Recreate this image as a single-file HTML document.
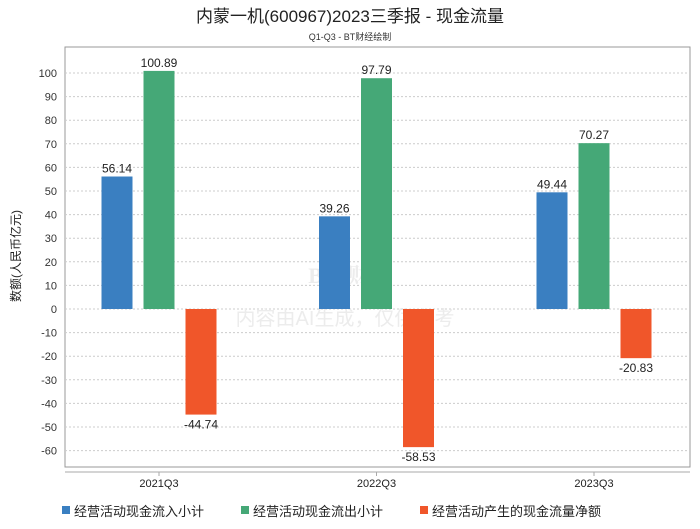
<!DOCTYPE html>
<html><head><meta charset="utf-8"><style>
body{margin:0;background:#fff;width:700px;height:524px;overflow:hidden;font-family:"Liberation Sans","Noto Sans CJK SC",sans-serif;}
</style></head><body>
<svg id="chart" width="700" height="524" xmlns="http://www.w3.org/2000/svg">
<text x="350" y="22" text-anchor="middle" font-size="17" fill="#222" font-family="Liberation Sans,Noto Sans CJK SC,sans-serif">内蒙一机(600967)2023三季报 - 现金流量</text>
<text x="350" y="40" text-anchor="middle" font-size="9" fill="#333" font-family="Liberation Sans,Noto Sans CJK SC,sans-serif">Q1-Q3 - BT财经绘制</text>
<rect x="65" y="47" width="625" height="420" fill="none" stroke="#999" stroke-width="1"/>
<g id="grid"></g>
<text x="350" y="283" text-anchor="middle" font-size="22" fill="#ececec" font-family="Liberation Serif,Noto Serif CJK SC,serif" font-weight="bold">B T 财经</text>
<text x="345" y="325" text-anchor="middle" font-size="20" fill="#ececec" font-family="Liberation Sans,Noto Sans CJK SC,sans-serif">内容由AI生成，仅供参考</text>
<g id="bars"></g>
<line x1="65" y1="472" x2="690" y2="472" stroke="#aaa"/>
<g id="xaxis"></g>
<text transform="translate(20,256) rotate(-90)" text-anchor="middle" font-size="12" fill="#222" font-family="Liberation Sans,Noto Sans CJK SC,sans-serif">数额(人民币亿元)</text>
<g id="legend" font-family="Liberation Sans,Noto Sans CJK SC,sans-serif" font-size="13" fill="#222">
<rect x="62" y="506" width="8" height="8" fill="#3a7fc1"/>
<text x="74" y="516">经营活动现金流入小计</text>
<rect x="241" y="506" width="8" height="8" fill="#45a877"/>
<text x="253" y="516">经营活动现金流出小计</text>
<rect x="420" y="506" width="8" height="8" fill="#f0562a"/>
<text x="432" y="516">经营活动产生的现金流量净额</text>
</g>
</svg>
<script>
const categories=["2021Q3","2022Q3","2023Q3"];
const inflow=[56.14,39.26,49.44];
const outflow=[100.89,97.79,70.27];
const net=[-44.74,-58.53,-20.83];
const yTicks=[100,90,80,70,60,50,40,30,20,10,0,-10,-20,-30,-40,-50,-60];
const NS="http://www.w3.org/2000/svg";
const y=v=>309-v*2.36;
const groupCenter=i=>159+i*217.5;
const grid=document.getElementById('grid'),bars=document.getElementById('bars'),xa=document.getElementById('xaxis');
function mk(tag,attrs,parent){const e=document.createElementNS(NS,tag);for(const k in attrs)e.setAttribute(k,attrs[k]);parent.appendChild(e);return e;}
yTicks.forEach(t=>{
 const l=mk('line',{x1:65,x2:690,y1:y(t),y2:y(t),stroke:'#ccc','stroke-dasharray':'2,2'},grid);
 
 
 const tx=mk('text',{x:57,y:y(t)+4,'text-anchor':'end','font-size':11,fill:'#333'},grid);
 tx.textContent=t;
 
 
});
const series=[[inflow,'#3a7fc1',-42,'inflow'],[outflow,'#45a877',0,'outflow'],[net,'#f0562a',42,'net']];
categories.forEach((c,i)=>{
 const cx=groupCenter(i);
 series.forEach(([arr,col,off,nm])=>{
  const v=arr[i],x=cx+off-15.5,top=Math.min(y(v),y(0)),h=Math.abs(y(v)-y(0));
  const r=mk('rect',{x:x,y:top,width:31,height:h,fill:col},bars);
  
  
  const lb=mk('text',{x:cx+off,y:v>=0?y(v)-4:y(v)+14,'text-anchor':'middle','font-size':12,fill:'#222'},bars);
  lb.textContent=v.toFixed(2);
  
  
 });
 const tk=mk('line',{x1:cx,x2:cx,y1:472,y2:476,stroke:'#aaa'},xa);
 
 
 const xl=mk('text',{x:cx,y:487,'text-anchor':'middle','font-size':11,fill:'#222'},xa);
 xl.textContent=c;
 
 
});
</script>
</body></html>
